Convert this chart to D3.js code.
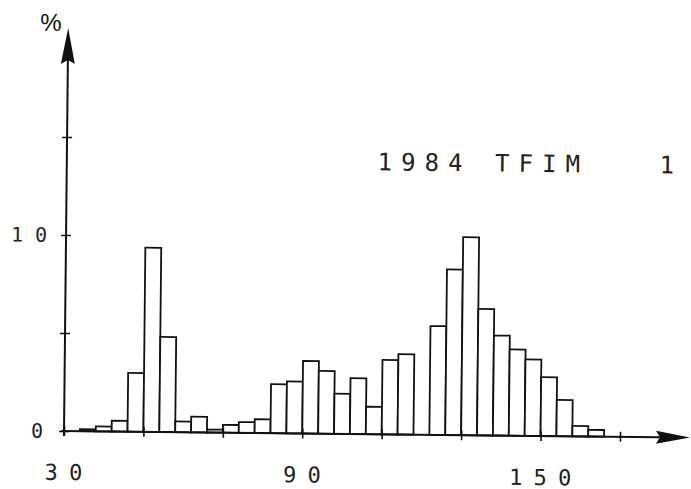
<!DOCTYPE html>
<html>
<head>
<meta charset="utf-8">
<script src="https://cdn.jsdelivr.net/npm/d3@7"></script>
<style>
body { margin: 0; background: #fff; }
svg { display: block; }
</style>
</head>
<body>
<svg id="chart" width="691" height="489"></svg>
<script>
// histogram, bins 4 units wide, left edge of each bin
var binStarts = [34, 38, 42, 46, 50, 54, 58, 62, 66, 70, 74, 78, 82, 86, 90, 94, 98,
	102, 106, 110, 114, 118, 122, 126, 130, 134, 138, 142, 146, 150, 154, 158, 162];
var percents = [0.1, 0.25, 0.55, 3.0, 9.4, 4.85, 0.55, 0.8, 0.15, 0.4, 0.55, 0.7, 2.5, 2.65, 3.7, 3.2, 2.05,
	2.85, 1.4, 3.8, 4.1, 0, 5.55, 8.45, 10.1, 6.45, 5.1, 4.4, 3.9, 3.0, 1.85, 0.53, 0.34];
var binWidth = 4;

var xTicks = [30, 50, 70, 90, 110, 130, 150, 170];
var xLabels = ["30", "90", "150"];
var yTicks = [0, 5, 10, 15];
var yLabels = ["0", "10"];
var title = "1984 TFIM   1";

var svg = d3.select("#chart");
var ink = "#111";
var mono = "'DejaVu Sans Mono', 'Liberation Mono', monospace";

var x = d3.scaleLinear().domain([30, 170]).range([64, 620]);
var y = d3.scaleLinear().domain([0, 10]).range([431, 235]);

// the scanned plot is turned a little clockwise
var g = svg.append("g").attr("transform", "rotate(0.6,64,431)");

// plotter style text: one glyph per fixed cell
function plotText(str, cx, baseline, pitch, size) {
	var chars = str.split("");
	var xs = chars.map(function(c, i) {
		return cx + (i - (chars.length - 1) / 2) * pitch;
	});
	var t = g.append("text")
		.attr("y", baseline)
		.attr("font-family", mono)
		.attr("font-size", size)
		.attr("fill", "#222")
		.attr("text-anchor", "middle");
	chars.forEach(function(c, i) {
		if (c === " ") return;
		t.append("tspan").attr("x", xs[i]).text(c);
	});
}

// bars
var bins = binStarts.map(function(s, i) {
	return { start: s, value: percents[i] };
}).filter(function(d) { return d.value > 0; });

g.selectAll("rect.bar")
	.data(bins)
	.enter().append("rect")
	.attr("class", "bar")
	.attr("x", function(d) { return x(d.start); })
	.attr("width", function(d) { return x(d.start + binWidth) - x(d.start); })
	.attr("y", function(d) { return y(d.value); })
	.attr("height", function(d) { return y(0) - y(d.value); })
	.attr("fill", "#fff")
	.attr("stroke", ink)
	.attr("stroke-width", 1.8);

// x axis
var xAxis = d3.axisBottom(x).tickValues(xTicks).tickSize(5).tickFormat("");
var xg = g.append("g").attr("transform", "translate(0," + y(0) + ")").call(xAxis);
xg.select(".domain").remove();
xg.selectAll(".tick line").attr("y1", -5).attr("y2", 5).attr("stroke", ink).attr("stroke-width", 1.6);

// y axis
var yAxis = d3.axisLeft(y).tickValues(yTicks).tickSize(5).tickFormat("");
var yg = g.append("g").attr("transform", "translate(" + x(30) + ",0)").call(yAxis);
yg.select(".domain").remove();
yg.selectAll(".tick line").attr("x1", -5).attr("x2", 5).attr("stroke", ink).attr("stroke-width", 1.6);

g.append("line")
	.attr("x1", x(30) - 3).attr("x2", 660)
	.attr("y1", y(0)).attr("y2", y(0))
	.attr("stroke", ink).attr("stroke-width", 2);
g.append("line")
	.attr("x1", x(30)).attr("x2", x(30))
	.attr("y1", y(0) + 5).attr("y2", 60)
	.attr("stroke", ink).attr("stroke-width", 2);

// arrowheads
g.append("path")
	.attr("d", "M690," + y(0) + "L656," + (y(0) - 6.5) + "L660," + y(0) + "L656," + (y(0) + 6.5) + "Z")
	.attr("fill", ink);
g.append("path")
	.attr("d", "M" + x(30) + ",28L" + (x(30) - 7) + ",64L" + x(30) + ",60L" + (x(30) + 7) + ",64Z")
	.attr("fill", ink);

// tick labels
var pitch = 24.5;
xLabels.forEach(function(l) {
	plotText(l, x(+l), 480, pitch, 22);
});
plotText(yLabels[1], 27, y(10) + 7, 24, 20);
plotText(yLabels[0], 37, y(0) + 7, 24, 20);

// title
plotText(title, 523, 167, 23.5, 24);

svg.append("text")
	.attr("x", 51).attr("y", 31)
	.attr("text-anchor", "middle")
	.attr("font-family", "'Liberation Sans', Arial, sans-serif")
	.attr("font-size", 24)
	.attr("fill", ink)
	.text("%");
</script>
</body>
</html>
